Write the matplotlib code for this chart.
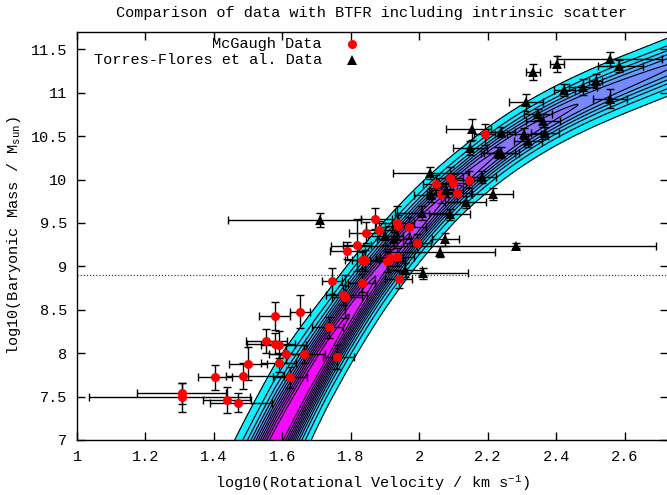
import matplotlib
matplotlib.use("Agg")
import matplotlib.pyplot as plt
import numpy as np

plt.rcParams["font.family"] = ["Liberation Mono", "DejaVu Sans Mono"]
plt.rcParams["font.size"] = 11
plt.rcParams["mathtext.fontset"] = "custom"
plt.rcParams["mathtext.rm"] = "Liberation Mono"
plt.rcParams["mathtext.it"] = "Liberation Mono"

# McGaugh data: log10 velocity, log10 mass, x error (low, high), y error
mcg_logv = [1.306, 1.306, 1.404, 1.438, 1.470, 1.484, 1.499, 1.553, 1.577, 1.577,
            1.589, 1.589, 1.611, 1.623, 1.652, 1.664, 1.736, 1.745, 1.759, 1.777,
            1.784, 1.790, 1.818, 1.832, 1.832, 1.842, 1.845, 1.871, 1.883, 1.907,
            1.913, 1.934, 1.940, 1.934, 1.939, 1.970, 1.993, 2.050, 2.062, 2.089,
            2.097, 2.110, 2.144, 2.191]
mcg_mass = [7.54, 7.49, 7.72, 7.46, 7.43, 7.74, 7.88, 8.14, 8.43, 8.11,
            8.10, 7.89, 7.99, 7.72, 8.48, 7.99, 8.30, 8.83, 7.96, 8.67,
            8.65, 9.18, 9.25, 9.07, 8.81, 9.07, 9.39, 9.55, 9.42, 9.06,
            9.10, 9.11, 8.85, 9.50, 9.47, 9.45, 9.27, 9.95, 9.83, 10.02,
            9.96, 9.84, 10.00, 10.52]
mcg_xlo = [0.13, 0.27, 0.05, 0.07, 0.08, 0.05, 0.055, 0.06, 0.045, 0.08,
           0.05, 0.05, 0.05, 0.05, 0.03, 0.05, 0.05, 0.03, 0.04, 0.05,
           0.04, 0.05, 0.04, 0.05, 0.04, 0.04, 0.05, 0.04, 0.04, 0.05,
           0.04, 0.05, 0.04, 0.06, 0.04, 0.05, 0.04, 0.04, 0.04, 0.04,
           0.04, 0.04, 0.04, 0.03]
mcg_xhi = [0.13, 0.20, 0.05, 0.07, 0.10, 0.12, 0.055, 0.06, 0.045, 0.06,
           0.08, 0.05, 0.05, 0.05, 0.03, 0.06, 0.04, 0.03, 0.05, 0.07,
           0.05, 0.05, 0.04, 0.05, 0.04, 0.06, 0.05, 0.05, 0.05, 0.05,
           0.04, 0.05, 0.04, 0.05, 0.04, 0.05, 0.04, 0.04, 0.04, 0.04,
           0.04, 0.04, 0.04, 0.03]
mcg_yerr = [0.12, 0.17, 0.14, 0.15, 0.11, 0.15, 0.19, 0.14, 0.16, 0.12,
            0.15, 0.11, 0.10, 0.12, 0.19, 0.10, 0.12, 0.15, 0.14, 0.12,
            0.25, 0.10, 0.30, 0.10, 0.10, 0.12, 0.12, 0.12, 0.10, 0.12,
            0.10, 0.10, 0.10, 0.20, 0.12, 0.12, 0.10, 0.10, 0.10, 0.13,
            0.10, 0.10, 0.10, 0.12]

# Torres-Flores et al. data
tf_logv = [1.711, 1.901, 1.925, 1.959, 2.011, 2.008, 2.034, 2.032, 2.061, 2.076,
           2.079, 2.089, 2.135, 2.149, 2.154, 2.183, 2.214, 2.229, 2.240, 2.240,
           2.282, 2.305, 2.311, 2.318, 2.332, 2.347, 2.361, 2.367, 2.403, 2.424,
           2.478, 2.515, 2.557, 2.558, 2.583]
tf_mass = [9.53, 9.35, 9.32, 8.96, 8.92, 9.61, 9.82, 10.08, 9.17, 9.31,
           9.88, 9.60, 9.74, 10.36, 10.58, 10.03, 9.83, 10.31, 10.31, 10.55,
           9.24, 10.53, 10.89, 10.45, 11.24, 10.75, 10.68, 10.54, 11.33, 11.03,
           11.07, 11.14, 10.93, 11.39, 11.31]
tf_xlo = [0.27, 0.05, 0.05, 0.05, 0.05, 0.08, 0.05, 0.11, 0.16, 0.04,
          0.05, 0.06, 0.06, 0.05, 0.075, 0.04, 0.06, 0.05, 0.05, 0.04,
          0.54, 0.05, 0.05, 0.04, 0.02, 0.04, 0.05, 0.04, 0.02, 0.03,
          0.04, 0.02, 0.05, 0.155, 0.06]
tf_xhi = [0.12, 0.05, 0.05, 0.05, 0.13, 0.08, 0.05, 0.11, 0.16, 0.04,
          0.05, 0.06, 0.06, 0.05, 0.055, 0.04, 0.06, 0.05, 0.05, 0.04,
          0.41, 0.05, 0.05, 0.04, 0.02, 0.04, 0.05, 0.04, 0.02, 0.03,
          0.04, 0.02, 0.05, 0.15, 0.07]
tf_yerr = [0.08, 0.10, 0.08, 0.08, 0.06, 0.08, 0.08, 0.07, 0.06, 0.08,
           0.08, 0.06, 0.07, 0.08, 0.12, 0.07, 0.07, 0.06, 0.06, 0.06,
           0.03, 0.06, 0.10, 0.07, 0.09, 0.06, 0.07, 0.07, 0.09, 0.07,
           0.09, 0.08, 0.11, 0.08, 0.07]

# BTFR model band: ridge line, peak density and outer half width (px)
ridge_logv = [1.582, 1.728, 1.893, 2.125, 2.310, 2.557, 2.720]
ridge_mass = [7.00, 8.00, 9.00, 10.00, 10.50, 11.05, 11.28]
ridge_peak = [1.00, 0.97, 0.80, 0.63, 0.55, 0.47, 0.43]
ridge_half = [36, 30, 27, 25, 26, 27, 27]

xticks = [1.0, 1.2, 1.4, 1.6, 1.8, 2.0, 2.2, 2.4, 2.6]
xticklabels = ["1", "1.2", "1.4", "1.6", "1.8", "2", "2.2", "2.4", "2.6"]
yticks = [7.0, 7.5, 8.0, 8.5, 9.0, 9.5, 10.0, 10.5, 11.0, 11.5]
yticklabels = ["7", "7.5", "8", "8.5", "9", "9.5", "10", "10.5", "11", "11.5"]

W, H = 667, 495
left, bottom, right, top = 77, 55, 668, 463
xlim = (1.0, 1.0 + (right - left) / 342.3)
ylim = (7.0, 11.7)

fig = plt.figure(figsize=(W / 100, H / 100), dpi=100)
ax = fig.add_axes([left / W, bottom / H, (right - left) / W, (top - bottom) / H])

# model density field around the ridge line
px_x = (right - left) / (xlim[1] - xlim[0])
px_y = (top - bottom) / (ylim[1] - ylim[0])
gx = np.linspace(1.3, xlim[1], 600)
gy = np.linspace(ylim[0], ylim[1], 500)
X, Y = np.meshgrid(gx, gy)
coef = np.polyfit(ridge_logv, ridge_mass, 4)
yc = np.polyval(coef, gx)
slope = np.polyval(np.polyder(coef), gx) * px_y / px_x
dperp = np.abs((Y - yc[None, :]) * px_y) / np.sqrt(1 + slope ** 2)[None, :]
peak = np.interp(gx, ridge_logv, ridge_peak)
half = np.interp(gx, ridge_logv, ridge_half)
floor = 0.03
width = half / np.sqrt(2 * np.log(peak / floor))
Z = peak[None, :] * np.exp(-0.5 * (dperp / width[None, :]) ** 2)

levels = [0.03, 0.10, 0.18, 0.26, 0.34, 0.42, 0.50, 0.58, 0.66, 0.74, 0.82, 0.90, 1.01]
ax.contourf(X, Y, Z, levels=levels, cmap="cool", vmin=0.0, vmax=1.0, zorder=1)
ax.contour(X, Y, Z, levels=levels[:-1], colors="black", linewidths=0.8, zorder=2)

ax.axhline(8.9, color="#444444", lw=0.9, ls=(0, (1, 1.5)), zorder=2)

ax.errorbar(mcg_logv, mcg_mass, xerr=[mcg_xlo, mcg_xhi], yerr=mcg_yerr, fmt="none",
            ecolor="black", elinewidth=1, capsize=3, capthick=1, zorder=3)
ax.errorbar(tf_logv, tf_mass, xerr=[tf_xlo, tf_xhi], yerr=tf_yerr, fmt="none",
            ecolor="black", elinewidth=1, capsize=3, capthick=1, zorder=3)
ax.plot(mcg_logv, mcg_mass, "o", color="red", markersize=6.5, markeredgewidth=0, zorder=4)
ax.plot(tf_logv, tf_mass, "^", color="black", markersize=7.5, markeredgewidth=0, zorder=4)

ax.set_xlim(xlim)
ax.set_ylim(ylim)
ax.set_xticks(xticks)
ax.set_xticklabels(xticklabels)
ax.set_yticks(yticks)
ax.set_yticklabels(yticklabels)
ax.tick_params(direction="in", length=6, width=1, top=True, right=True, pad=7)
for s in ax.spines.values():
    s.set_linewidth(1)

ax.set_xlabel("log10(Rotational Velocity / km s$^{-1}$)", va="center")
ax.xaxis.set_label_coords(0.5, -(483 - 440) / (top - bottom))
ax.set_ylabel("log10(Baryonic Mass / M$_{\\mathrm{sun}}$)", va="center")
ax.yaxis.set_label_coords((14 - left) / (right - left), 0.5)

fig.text(372 / W, 1 - 13 / H, "Comparison of data with BTFR including intrinsic scatter",
         ha="center", va="center")

# key
fig.text(322 / W, 1 - 44 / H, "McGaugh Data", ha="right", va="center")
fig.text(322 / W, 1 - 60 / H, "Torres-Flores et al. Data", ha="right", va="center")
ax.plot([352 / W], [1 - 44 / H], "o", color="red", markersize=6.5, markeredgewidth=0,
        transform=fig.transFigure, clip_on=False)
ax.plot([352 / W], [1 - 60 / H], "^", color="black", markersize=7.5, markeredgewidth=0,
        transform=fig.transFigure, clip_on=False)

fig.savefig("out.png", dpi=100)
